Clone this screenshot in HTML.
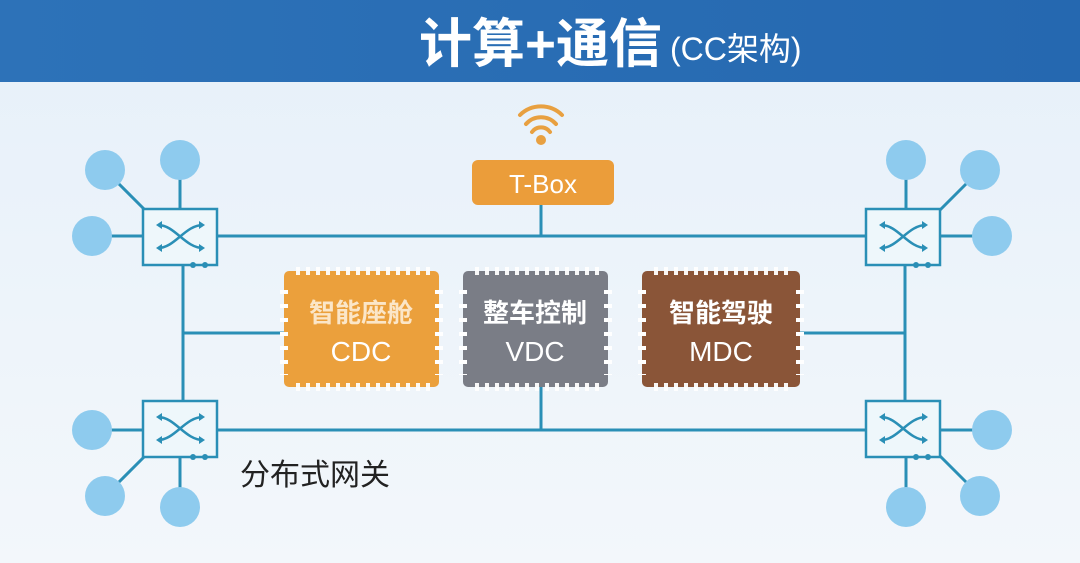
<!DOCTYPE html>
<html><head><meta charset="utf-8"><style>
html,body{margin:0;padding:0;width:1080px;height:563px;overflow:hidden;background:#eef4fa}
svg{display:block}
</style></head><body>
<svg width="1080" height="563" viewBox="0 0 1080 563" xmlns="http://www.w3.org/2000/svg">
<defs>
<linearGradient id="bg" x1="0" y1="0" x2="0" y2="1"><stop offset="0" stop-color="#e6f0f9"/><stop offset="1" stop-color="#f3f7fb"/></linearGradient>
<linearGradient id="hd" x1="0" y1="0" x2="1" y2="0"><stop offset="0" stop-color="#2d72b8"/><stop offset="1" stop-color="#2568b0"/></linearGradient>
</defs>
<rect width="1080" height="563" fill="url(#bg)"/>
<rect width="1080" height="82" fill="url(#hd)"/>
<text x="419" y="62" font-family="Liberation Sans,'Noto Sans CJK SC',sans-serif" font-weight="bold" font-size="53" fill="#fff">计算+通信</text>
<text x="670" y="60" font-family="Liberation Sans,'Noto Sans CJK SC',sans-serif" font-size="32" fill="#fff">(CC架构)</text>

<g stroke="#2a8fb6" stroke-width="3" fill="none">
<line x1="183" y1="236" x2="905" y2="236"/>
<line x1="183" y1="430" x2="905" y2="430"/>
<line x1="183" y1="265" x2="183" y2="400"/>
<line x1="905" y1="265" x2="905" y2="400"/>
<line x1="183" y1="333" x2="284" y2="333"/>
<line x1="800" y1="333" x2="905" y2="333"/>
<line x1="541" y1="205" x2="541" y2="236"/>
<line x1="541" y1="387" x2="541" y2="430"/>
<line x1="105" y1="170" x2="145" y2="210"/><line x1="180" y1="160" x2="180" y2="208"/><line x1="92" y1="236" x2="143" y2="236"/>
<line x1="92" y1="430" x2="143" y2="430"/><line x1="105" y1="496" x2="145" y2="456"/><line x1="180" y1="507" x2="180" y2="458"/>
<line x1="906" y1="160" x2="906" y2="208"/><line x1="980" y1="170" x2="940" y2="210"/><line x1="992" y1="236" x2="940" y2="236"/>
<line x1="992" y1="430" x2="940" y2="430"/><line x1="906" y1="507" x2="906" y2="458"/><line x1="980" y1="496" x2="940" y2="456"/>
</g>
<g fill="#8ecbee">
<circle cx="105" cy="170" r="20"/><circle cx="180" cy="160" r="20"/><circle cx="92" cy="236" r="20"/>
<circle cx="92" cy="430" r="20"/><circle cx="105" cy="496" r="20"/><circle cx="180" cy="507" r="20"/>
<circle cx="906" cy="160" r="20"/><circle cx="980" cy="170" r="20"/><circle cx="992" cy="236" r="20"/>
<circle cx="992" cy="430" r="20"/><circle cx="906" cy="507" r="20"/><circle cx="980" cy="496" r="20"/>
</g>

<g stroke="#2a8fb6" stroke-width="2.5" fill="#eef7fb">
<rect x="143" y="209" width="74" height="56"/>
<rect x="866" y="209" width="74" height="56"/>
<rect x="143" y="401" width="74" height="56"/>
<rect x="866" y="401" width="74" height="56"/>
</g>
<g stroke="#2a8fb6" stroke-width="2.5" fill="none">
<path d="M158 225 C175 225,185 248,203 248 M158 248 C175 248,185 225,203 225"/>
<path d="M881 225 C898 225,908 248,926 248 M881 248 C898 248,908 225,926 225"/>
<path d="M158 417 C175 417,185 440,203 440 M158 440 C175 440,185 417,203 417"/>
<path d="M881 417 C898 417,908 440,926 440 M881 440 C898 440,908 417,926 417"/>
</g>
<g fill="#2a8fb6">
<path d="M156 225 l6 -4 v8z M205 225 l-6 -4 v8z M156 248 l6 -4 v8z M205 248 l-6 -4 v8z"/>
<path d="M879 225 l6 -4 v8z M928 225 l-6 -4 v8z M879 248 l6 -4 v8z M928 248 l-6 -4 v8z"/>
<path d="M156 417 l6 -4 v8z M205 417 l-6 -4 v8z M156 440 l6 -4 v8z M205 440 l-6 -4 v8z"/>
<path d="M879 417 l6 -4 v8z M928 417 l-6 -4 v8z M879 440 l6 -4 v8z M928 440 l-6 -4 v8z"/>
<circle cx="193" cy="265" r="3"/><circle cx="205" cy="265" r="3"/>
<circle cx="916" cy="265" r="3"/><circle cx="928" cy="265" r="3"/>
<circle cx="193" cy="457" r="3"/><circle cx="205" cy="457" r="3"/>
<circle cx="916" cy="457" r="3"/><circle cx="928" cy="457" r="3"/>
</g>

<g fill="none" stroke="#e8a040" stroke-width="4" stroke-linecap="round">
<path d="M520 115 A30 30 0 0 1 562 115"/>
<path d="M526 124 A20 20 0 0 1 556 124"/>
<path d="M532 132 A11 11 0 0 1 550 132"/>
</g>
<circle cx="541" cy="140" r="5" fill="#e8a040"/>
<rect x="472" y="160" width="142" height="45" rx="6" fill="#eb9d3a"/>
<text x="543" y="193" text-anchor="middle" font-family="Liberation Sans,sans-serif" font-size="26" fill="#fff">T-Box</text>

<g font-family="Liberation Sans,'Noto Sans CJK SC',sans-serif" font-size="26" font-weight="bold" fill="#fff" text-anchor="middle">
<rect x="284" y="271" width="155" height="116" rx="5" fill="#eba03c"/>
<rect x="463" y="271" width="145" height="116" rx="5" fill="#7a7d86"/>
<rect x="642" y="271" width="158" height="116" rx="5" fill="#8a5538"/>
<g stroke="#fff" stroke-width="8" stroke-dasharray="4 6" opacity="0.95">
<line x1="296" y1="271" x2="430" y2="271"/><line x1="296" y1="387" x2="430" y2="387"/>
<line x1="475" y1="271" x2="600" y2="271"/><line x1="475" y1="387" x2="600" y2="387"/>
<line x1="654" y1="271" x2="792" y2="271"/><line x1="654" y1="387" x2="792" y2="387"/>
</g>
<g stroke="#fff" stroke-width="8" stroke-dasharray="4 10">
<line x1="284" y1="290" x2="284" y2="375"/><line x1="439" y1="290" x2="439" y2="375"/>
<line x1="463" y1="290" x2="463" y2="375"/><line x1="608" y1="290" x2="608" y2="375"/>
<line x1="642" y1="290" x2="642" y2="375"/><line x1="800" y1="290" x2="800" y2="375"/>
</g>
<text x="361" y="322" fill="#fbe6c8">智能座舱</text><text x="361" y="361" font-weight="normal" font-size="28">CDC</text>
<text x="535" y="322">整车控制</text><text x="535" y="361" font-weight="normal" font-size="28">VDC</text>
<text x="721" y="322">智能驾驶</text><text x="721" y="361" font-weight="normal" font-size="28">MDC</text>
</g>
<text x="240" y="485" font-family="Liberation Sans,'Noto Sans CJK SC',sans-serif" font-size="30" fill="#222">分布式网关</text>
</svg>
</body></html>
